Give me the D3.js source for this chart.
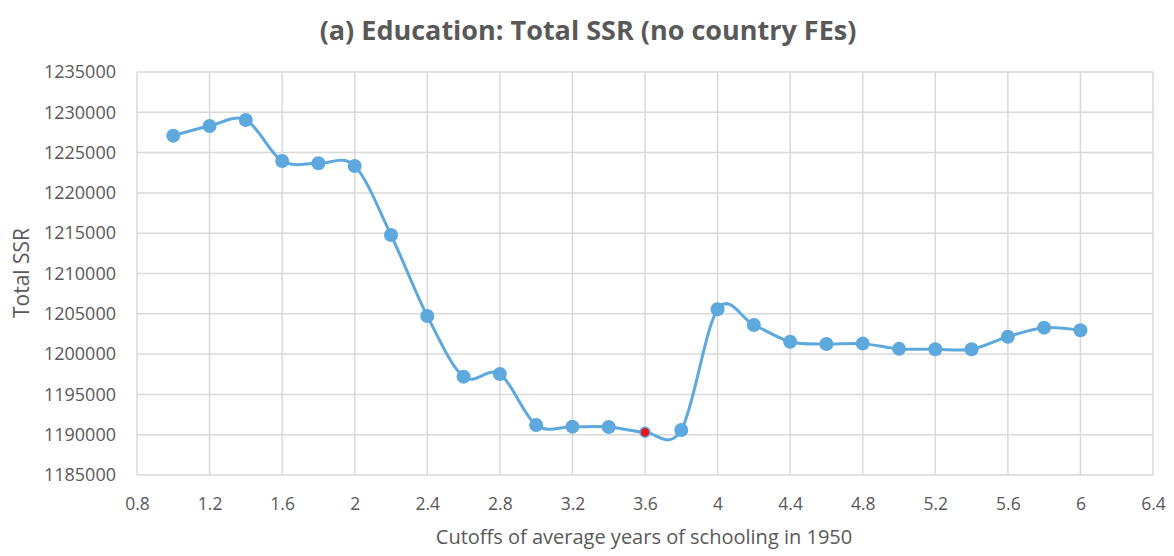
<!DOCTYPE html>
<html>
<head>
<meta charset="utf-8">
<script src="https://cdn.jsdelivr.net/npm/d3@7"></script>
<style>
  body { margin: 0; background: #fff; }
  svg { display: block; font-family: "Open Sans", "Liberation Sans", sans-serif; }
</style>
</head>
<body>
<svg id="chart" width="1174" height="556"></svg>
<script>
// cutoffs (x) and total SSR (y)
const cutoffs = [1.0, 1.2, 1.4, 1.6, 1.8, 2.0, 2.2, 2.4, 2.6, 2.8, 3.0, 3.2, 3.4, 3.6, 3.8,
  4.0, 4.2, 4.4, 4.6, 4.8, 5.0, 5.2, 5.4, 5.6, 5.8, 6.0]
const totalSSR = [1227100, 1228300, 1229050, 1223960, 1223670, 1223340, 1214780, 1204730,
  1197200, 1197530, 1191200, 1191000, 1190950, 1190300, 1190580, 1205560, 1203610,
  1201540, 1201250, 1201300, 1200650, 1200600, 1200600, 1202160, 1203280, 1202950]
const minIndex = 13 // the red point at 3.6
const xTicks = [0.8, 1.2, 1.6, 2, 2.4, 2.8, 3.2, 3.6, 4, 4.4, 4.8, 5.2, 5.6, 6, 6.4]
const yTicks = [1185000, 1190000, 1195000, 1200000, 1205000, 1210000, 1215000,
  1220000, 1225000, 1230000, 1235000]

const plotLeft = 137
const plotRight = 1153
const plotTop = 72
const plotBottom = 475

const svg = d3.select('#chart')

const xScale = d3.scaleLinear().domain([0.8, 6.4]).range([plotLeft, plotRight])
const yScale = d3.scaleLinear().domain([1185000, 1235000]).range([plotBottom, plotTop])

// grid
svg.append('g')
  .selectAll('line')
  .data(yTicks)
  .join('line')
  .attr('x1', plotLeft).attr('x2', plotRight)
  .attr('y1', d => yScale(d)).attr('y2', d => yScale(d))
  .attr('stroke', '#d9d9d9').attr('stroke-width', 1.5)

svg.append('g')
  .selectAll('line')
  .data(xTicks)
  .join('line')
  .attr('x1', d => xScale(d)).attr('x2', d => xScale(d))
  .attr('y1', plotTop).attr('y2', plotBottom)
  .attr('stroke', '#d9d9d9').attr('stroke-width', 1.5)

// axes
const xAxis = d3.axisBottom(xScale)
  .tickValues(xTicks)
  .tickSize(0)
  .tickPadding(23)
  .tickFormat(d => String(+d.toFixed(1)))

svg.append('g')
  .attr('transform', `translate(0, ${plotBottom})`)
  .call(xAxis)
  .call(g => g.select('.domain').remove())
  .selectAll('text')
  .attr('font-size', 17.5)
  .attr('fill', '#595959')
  .attr('font-family', '"Open Sans", sans-serif')

const yAxis = d3.axisLeft(yScale)
  .tickValues(yTicks)
  .tickSize(0)
  .tickPadding(21)
  .tickFormat(d => d)

svg.append('g')
  .attr('transform', `translate(${plotLeft}, 0)`)
  .call(yAxis)
  .call(g => g.select('.domain').remove())
  .selectAll('text')
  .attr('font-size', 18)
  .attr('fill', '#595959')
  .attr('font-family', '"Open Sans", sans-serif')

// titles
svg.append('text')
  .attr('x', 588).attr('y', 40)
  .attr('text-anchor', 'middle')
  .attr('font-size', 27)
  .attr('font-weight', 'bold')
  .attr('fill', '#595959')
  .text('(a) Education: Total SSR (no country FEs)')

svg.append('text')
  .attr('x', 644).attr('y', 544)
  .attr('text-anchor', 'middle')
  .attr('font-size', 20)
  .attr('fill', '#595959')
  .text('Cutoffs of average years of schooling in 1950')

svg.append('text')
  .attr('transform', `translate(29, 273) rotate(-90)`)
  .attr('text-anchor', 'middle')
  .attr('font-size', 21)
  .attr('fill', '#595959')
  .text('Total SSR')

// series
const points = cutoffs.map((c, i) => ({ x: c, y: totalSSR[i], min: i === minIndex }))

const line = d3.line()
  .x(d => xScale(d.x))
  .y(d => yScale(d.y))
  .curve(d3.curveCardinal.tension(0))

svg.append('path')
  .datum(points)
  .attr('d', line)
  .attr('fill', 'none')
  .attr('stroke', '#5DA9DD')
  .attr('stroke-width', 3)

svg.append('g')
  .selectAll('circle')
  .data(points)
  .join('circle')
  .attr('cx', d => xScale(d.x))
  .attr('cy', d => yScale(d.y))
  .attr('r', d => d.min ? 5 : 7)
  .attr('fill', d => d.min ? '#E8141B' : '#5DA9DD')
  .attr('stroke', d => d.min ? '#5DA9DD' : 'none')
  .attr('stroke-width', 1.5)
</script>
</body>
</html>
